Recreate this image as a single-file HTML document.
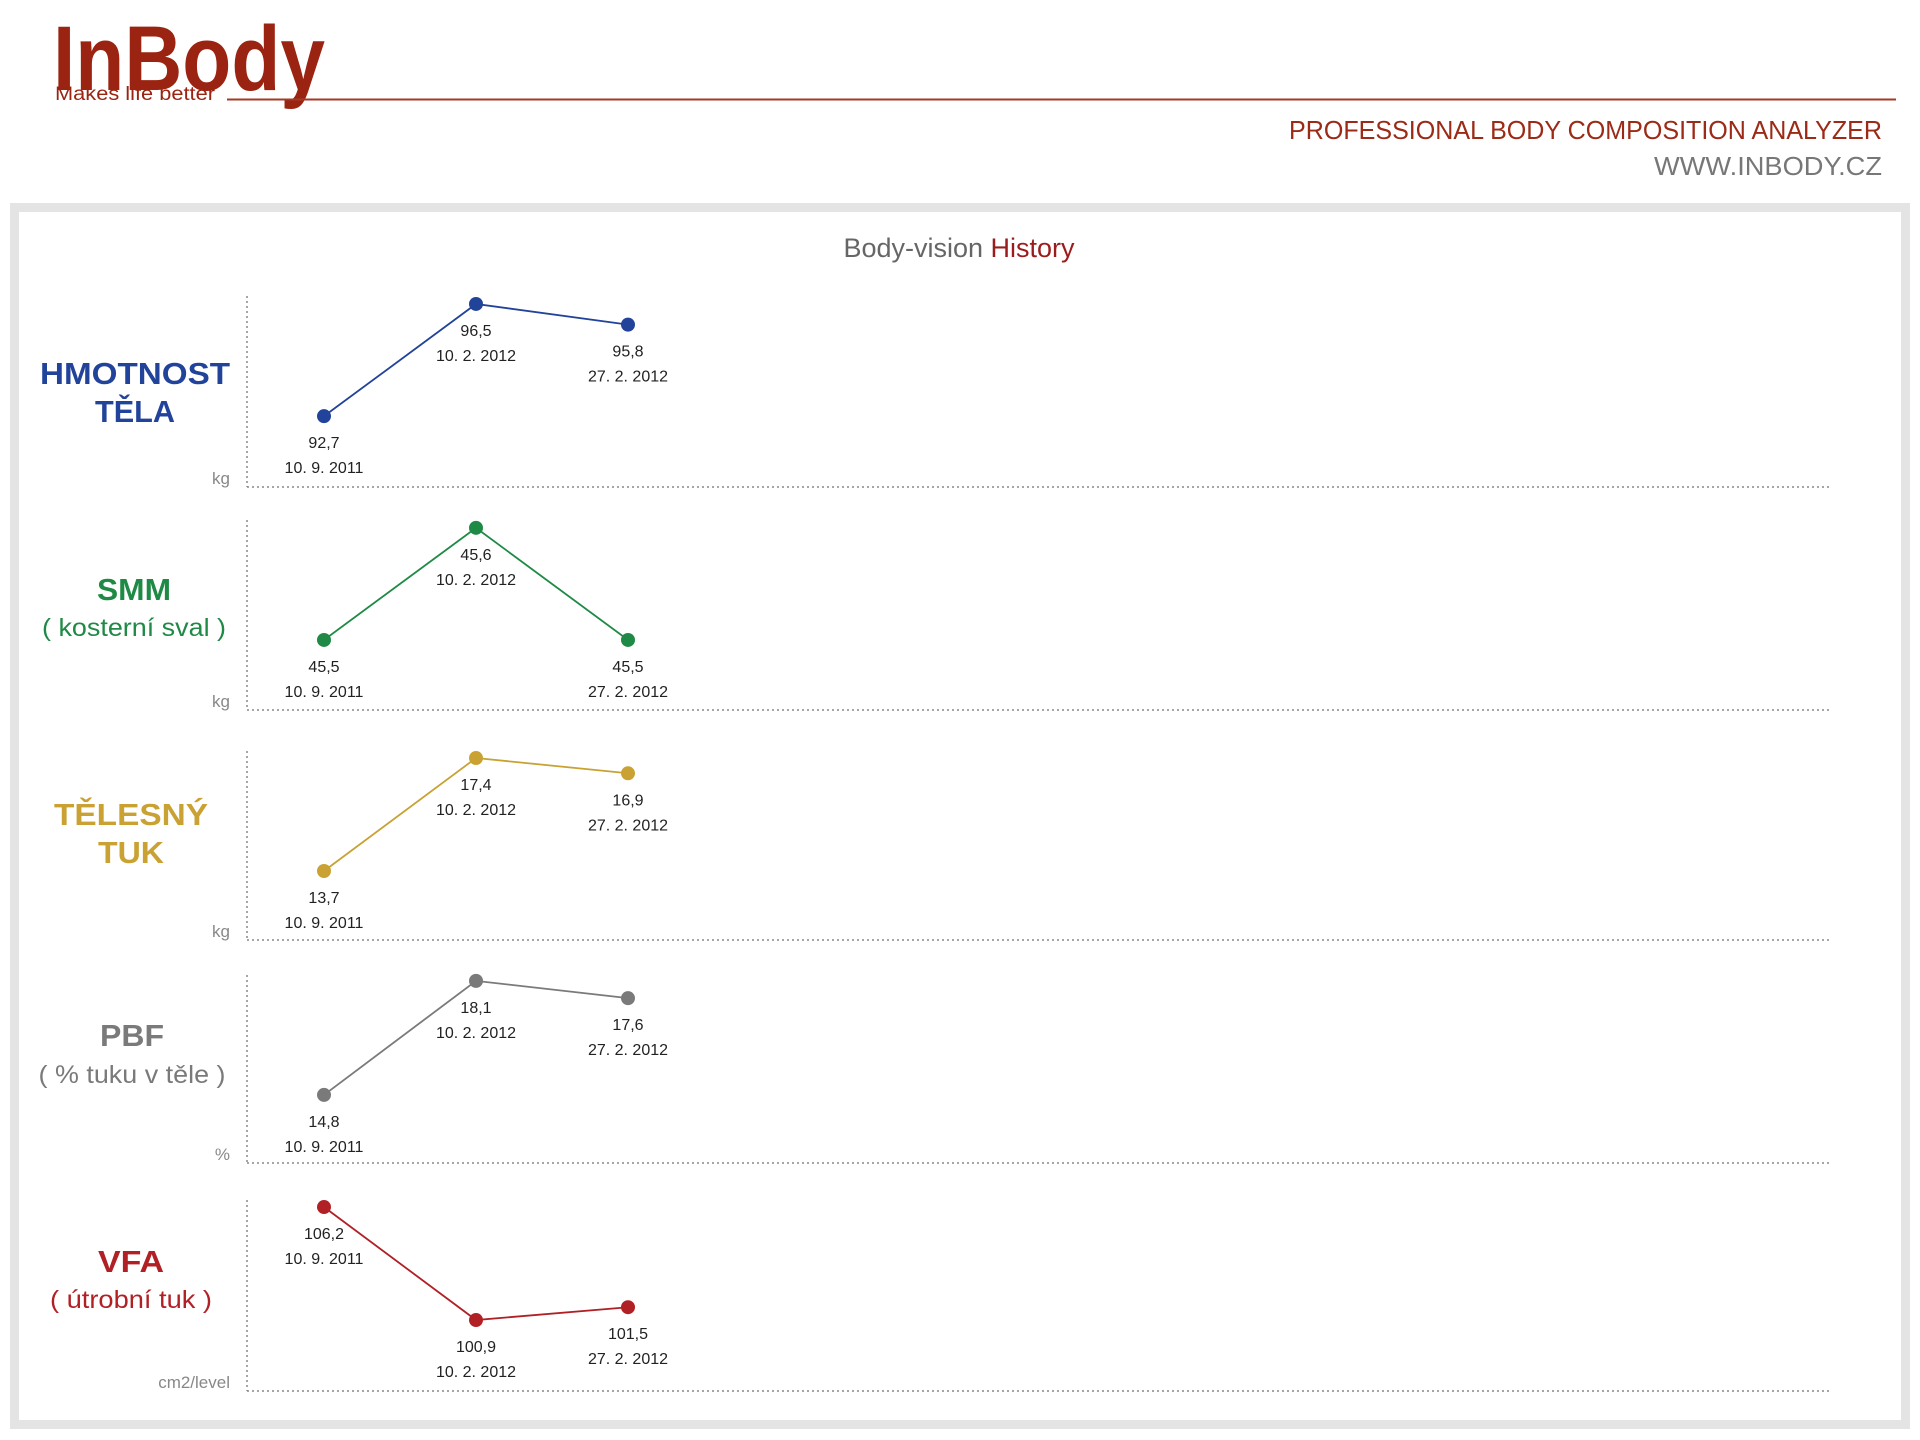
<!DOCTYPE html>
<html><head><meta charset="utf-8"><style>
html,body{margin:0;padding:0;background:#fff;}
svg{display:block;}
</style></head><body>
<svg id="chart" width="1920" height="1440" viewBox="0 0 1920 1440" xmlns="http://www.w3.org/2000/svg" font-family="'Liberation Sans', sans-serif">
  <g>
    <text x="53" y="90" font-size="92" font-weight="bold" fill="#9a2411" textLength="272" lengthAdjust="spacingAndGlyphs">InBody</text>
    <text x="55" y="100" font-size="19" fill="#9a2411" textLength="160" lengthAdjust="spacingAndGlyphs">Makes life better</text>
    <line x1="227" y1="99.5" x2="1896" y2="99.5" stroke="#a33a26" stroke-width="2"/>
    <text x="1882" y="139" text-anchor="end" font-size="26" fill="#9b2a16" textLength="593" lengthAdjust="spacingAndGlyphs">PROFESSIONAL BODY COMPOSITION ANALYZER</text>
    <text x="1882" y="175" text-anchor="end" font-size="26" fill="#777" textLength="228" lengthAdjust="spacingAndGlyphs">WWW.INBODY.CZ</text>
  </g>
  <rect x="14.5" y="207.5" width="1891" height="1217" fill="#fff" stroke="#e4e4e4" stroke-width="9"/>
  <text x="959" y="257" text-anchor="middle" font-size="27" font-family="'Liberation Sans Narrow','Liberation Sans',sans-serif"><tspan fill="#666">Body-vision </tspan><tspan fill="#9b1c1c">History</tspan></text>
  <g id="panels"></g>
</svg>
<script>
// Shared categories
const dates = ["10. 9. 2011", "10. 2. 2012", "27. 2. 2012"];
// Series values
const weightValues = [92.7, 96.5, 95.8];
const smmValues = [45.5, 45.6, 45.5];
const fatValues = [13.7, 17.4, 16.9];
const pbfValues = [14.8, 18.1, 17.6];
const vfaValues = [106.2, 100.9, 101.5];
// Printed value labels
const weightLabels = ["92,7", "96,5", "95,8"];
const smmLabels = ["45,5", "45,6", "45,5"];
const fatLabels = ["13,7", "17,4", "16,9"];
const pbfLabels = ["14,8", "18,1", "17,6"];
const vfaLabels = ["106,2", "100,9", "101,5"];
// Axis domains per panel [min, max]
const weightDomain = [90.3, 96.77];
const smmDomain = [45.4375, 45.607];
const fatDomain = [11.44, 17.63];
const pbfDomain = [12.83, 18.27];
const vfaDomain = [97.57, 106.53];

const NS = "http://www.w3.org/2000/svg";
const root = document.getElementById("panels");
const axisLeft = 247, axisRight = 1831;
const xStart = 324, xStep = 152;
function xScale(i){ return xStart + i * xStep; }

const panels = [
  {key:"weight", vals:weightValues, labels:weightLabels, dom:weightDomain, base:487, top:296, color:"#22439a", title:["HMOTNOST","TĚLA"], bold2:true, unit:"kg", tx:135, ty:[373,411], tw:[190,80]},
  {key:"smm", vals:smmValues, labels:smmLabels, dom:smmDomain, base:710, top:520, color:"#1f8a45", title:["SMM","( kosterní sval )"], bold2:false, unit:"kg", tx:134, ty:[589,627], tw:[74,184]},
  {key:"fat", vals:fatValues, labels:fatLabels, dom:fatDomain, base:940, top:751, color:"#c9a233", title:["TĚLESNÝ","TUK"], bold2:true, unit:"kg", tx:131, ty:[814,852], tw:[154,66]},
  {key:"pbf", vals:pbfValues, labels:pbfLabels, dom:pbfDomain, base:1163, top:975, color:"#7a7a7a", title:["PBF","( % tuku v těle )"], bold2:false, unit:"%", tx:132, ty:[1035,1074], tw:[64,187]},
  {key:"vfa", vals:vfaValues, labels:vfaLabels, dom:vfaDomain, base:1391, top:1200, color:"#b02025", title:["VFA","( útrobní tuk )"], bold2:false, unit:"cm2/level", tx:131, ty:[1261,1299], tw:[66,162]}
];

function mk(tag, attrs){
  const el = document.createElementNS(NS, tag);
  for (const k in attrs) el.setAttribute(k, attrs[k]);
  return el;
}

panels.forEach(p => {
  const g = mk("g", {});
  
  
  root.appendChild(g);
  const yScale = v => p.base - (v - p.dom[0]) / (p.dom[1] - p.dom[0]) * (p.base - p.top);

  const yAxis = mk("line", {x1:axisLeft, y1:p.top, x2:axisLeft, y2:p.base, stroke:"#888", "stroke-width":1.5, "stroke-dasharray":"2 3"});
  
  
  g.appendChild(yAxis);
  const xAxis = mk("line", {x1:axisLeft, y1:p.base, x2:axisRight, y2:p.base, stroke:"#888", "stroke-width":1.5, "stroke-dasharray":"2 3"});
  
  
  g.appendChild(xAxis);

  const unit = mk("text", {x:230, y:p.base - 3, "text-anchor":"end", "font-size":17, fill:"#888"});
  unit.textContent = p.unit;
  
  
  g.appendChild(unit);

  const t1 = mk("text", {x:p.tx, y:p.ty[0] + 11, "text-anchor":"middle", "font-size":31, "font-weight":"bold", fill:p.color, textLength:p.tw[0], lengthAdjust:"spacingAndGlyphs"});
  t1.textContent = p.title[0];
  
  
  g.appendChild(t1);
  const t2 = mk("text", {x:p.tx, y:p.ty[1] + (p.bold2 ? 11 : 9), "text-anchor":"middle", "font-size":p.bold2 ? 31 : 25, "font-weight":p.bold2 ? "bold" : "normal", fill:p.color, textLength:p.tw[1], lengthAdjust:"spacingAndGlyphs"});
  t2.textContent = p.title[1];
  
  
  g.appendChild(t2);

  const pts = p.vals.map((v, i) => xScale(i) + "," + yScale(v)).join(" ");
  const line = mk("polyline", {points:pts, fill:"none", stroke:p.color, "stroke-width":1.8});
  
  
  g.appendChild(line);

  p.vals.forEach((v, i) => {
    const cx = xScale(i), cy = yScale(v);
    const dot = mk("circle", {cx:cx, cy:cy, r:7, fill:p.color});
    
    
    g.appendChild(dot);
    const vl = mk("text", {x:cx, y:cy + 32, "text-anchor":"middle", "font-size":16, fill:"#222", "font-family":"'Liberation Sans Narrow','Liberation Sans',sans-serif"});
    vl.textContent = p.labels[i];
    
    
    g.appendChild(vl);
    const dl = mk("text", {x:cx, y:cy + 57, "text-anchor":"middle", "font-size":16, fill:"#222", "font-family":"'Liberation Sans Narrow','Liberation Sans',sans-serif"});
    dl.textContent = dates[i];
    
    
    g.appendChild(dl);
  });
});
</script>
</body></html>
